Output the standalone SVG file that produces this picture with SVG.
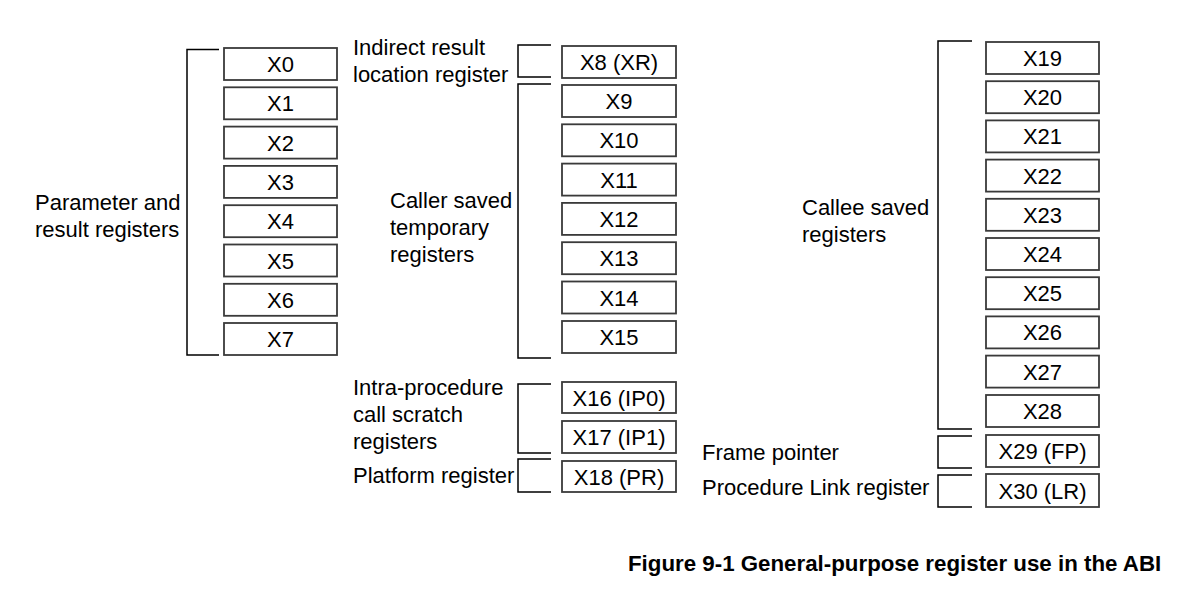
<svg xmlns="http://www.w3.org/2000/svg" width="1184" height="598" viewBox="0 0 1184 598">
<style>
.box rect{fill:#fff;stroke:#3a3a3a;stroke-width:1.8}
.box text{font-family:"Liberation Sans",Arial,sans-serif;font-size:22px;fill:#000;text-anchor:middle}
.lbl{font-family:"Liberation Sans",Arial,sans-serif;font-size:22px;fill:#000}
.br{fill:none;stroke:#000;stroke-width:1.5}
.cap{font-family:"Liberation Sans",Arial,sans-serif;font-size:22.3px;font-weight:bold;fill:#000}
</style>
<rect width="1184" height="598" fill="#fff"/>
<g id="connectors">
<path class="br" d="M219 49.5H187V355H219"/>
<path class="br" d="M551 45H518V77H551"/>
<path class="br" d="M551 84H518V358H551"/>
<path class="br" d="M551 384H518V453H551"/>
<path class="br" d="M551 459H518V492H551"/>
<path class="br" d="M972 41H938V429H972"/>
<path class="br" d="M972 436H938V468H972"/>
<path class="br" d="M972 475H938V507H972"/>
</g>
<g id="labels">
<text class="lbl" x="35" y="210">Parameter and</text>
<text class="lbl" x="35" y="237">result registers</text>
<text class="lbl" x="353" y="55">Indirect result</text>
<text class="lbl" x="353" y="82">location register</text>
<text class="lbl" x="390" y="208">Caller saved</text>
<text class="lbl" x="390" y="235">temporary</text>
<text class="lbl" x="390" y="262">registers</text>
<text class="lbl" x="353" y="395">Intra-procedure</text>
<text class="lbl" x="353" y="422">call scratch</text>
<text class="lbl" x="353" y="449">registers</text>
<text class="lbl" x="353" y="483">Platform register</text>
<text class="lbl" x="802" y="215">Callee saved</text>
<text class="lbl" x="802" y="242">registers</text>
<text class="lbl" x="702" y="460">Frame pointer</text>
<text class="lbl" x="702" y="495">Procedure Link register</text>
<text class="cap" x="628" y="571">Figure 9-1 General-purpose register use in the ABI</text>
</g>
<g id="X0" class="box"><rect x="224" y="48" width="113" height="32"/><text x="280.5" y="72">X0</text></g>
<g id="X1" class="box"><rect x="224" y="87.3" width="113" height="32"/><text x="280.5" y="111.3">X1</text></g>
<g id="X2" class="box"><rect x="224" y="126.6" width="113" height="32"/><text x="280.5" y="150.6">X2</text></g>
<g id="X3" class="box"><rect x="224" y="165.9" width="113" height="32"/><text x="280.5" y="189.9">X3</text></g>
<g id="X4" class="box"><rect x="224" y="205.2" width="113" height="32"/><text x="280.5" y="229.2">X4</text></g>
<g id="X5" class="box"><rect x="224" y="244.5" width="113" height="32"/><text x="280.5" y="268.5">X5</text></g>
<g id="X6" class="box"><rect x="224" y="283.8" width="113" height="32"/><text x="280.5" y="307.8">X6</text></g>
<g id="X7" class="box"><rect x="224" y="323" width="113" height="32"/><text x="280.5" y="347">X7</text></g>
<g id="X8" class="box"><rect x="562" y="46" width="114" height="32"/><text x="619" y="70">X8 (XR)</text></g>
<g id="X9" class="box"><rect x="562" y="85" width="114" height="32"/><text x="619" y="109">X9</text></g>
<g id="X10" class="box"><rect x="562" y="124.3" width="114" height="32"/><text x="619" y="148.3">X10</text></g>
<g id="X11" class="box"><rect x="562" y="163.6" width="114" height="32"/><text x="619" y="187.6">X11</text></g>
<g id="X12" class="box"><rect x="562" y="202.9" width="114" height="32"/><text x="619" y="226.9">X12</text></g>
<g id="X13" class="box"><rect x="562" y="242.2" width="114" height="32"/><text x="619" y="266.2">X13</text></g>
<g id="X14" class="box"><rect x="562" y="281.5" width="114" height="32"/><text x="619" y="305.5">X14</text></g>
<g id="X15" class="box"><rect x="562" y="321" width="114" height="32"/><text x="619" y="345">X15</text></g>
<g id="X16" class="box"><rect x="562" y="382" width="114" height="31"/><text x="619" y="405.5">X16 (IP0)</text></g>
<g id="X17" class="box"><rect x="562" y="421" width="114" height="32"/><text x="619" y="445">X17 (IP1)</text></g>
<g id="X18" class="box"><rect x="562" y="461" width="114" height="31"/><text x="619" y="484.5">X18 (PR)</text></g>
<g id="X19" class="box"><rect x="986" y="42" width="113" height="32"/><text x="1042.5" y="66">X19</text></g>
<g id="X20" class="box"><rect x="986" y="81.2" width="113" height="32"/><text x="1042.5" y="105.2">X20</text></g>
<g id="X21" class="box"><rect x="986" y="120.4" width="113" height="32"/><text x="1042.5" y="144.4">X21</text></g>
<g id="X22" class="box"><rect x="986" y="159.6" width="113" height="32"/><text x="1042.5" y="183.6">X22</text></g>
<g id="X23" class="box"><rect x="986" y="198.8" width="113" height="32"/><text x="1042.5" y="222.8">X23</text></g>
<g id="X24" class="box"><rect x="986" y="238" width="113" height="32"/><text x="1042.5" y="262">X24</text></g>
<g id="X25" class="box"><rect x="986" y="277.2" width="113" height="32"/><text x="1042.5" y="301.2">X25</text></g>
<g id="X26" class="box"><rect x="986" y="316.4" width="113" height="32"/><text x="1042.5" y="340.4">X26</text></g>
<g id="X27" class="box"><rect x="986" y="355.6" width="113" height="32"/><text x="1042.5" y="379.6">X27</text></g>
<g id="X28" class="box"><rect x="986" y="395" width="113" height="32"/><text x="1042.5" y="419">X28</text></g>
<g id="X29" class="box"><rect x="986" y="435" width="113" height="32"/><text x="1042.5" y="459">X29 (FP)</text></g>
<g id="X30" class="box"><rect x="986" y="474" width="113" height="33"/><text x="1042.5" y="498.5">X30 (LR)</text></g>
</svg>
